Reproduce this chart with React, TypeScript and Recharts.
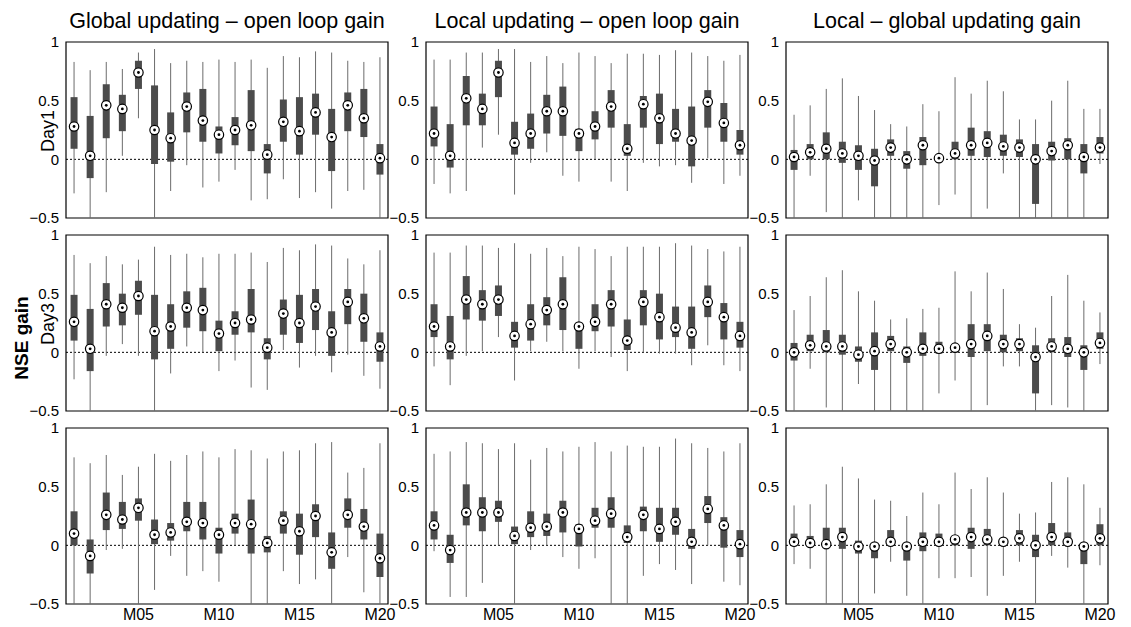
import {
  ComposedChart,
  ErrorBar,
  ReferenceArea,
  ReferenceLine,
  Scatter,
  XAxis,
  YAxis,
} from 'recharts';

// [lower whisker, q1, median, q3, upper whisker]
type Box = [number, number, number, number, number];

const models = [
  'M01', 'M02', 'M03', 'M04', 'M05', 'M06', 'M07', 'M08', 'M09', 'M10',
  'M11', 'M12', 'M13', 'M14', 'M15', 'M16', 'M17', 'M18', 'M19', 'M20',
];
const xTicks = [5, 10, 15, 20];
const yTicks = [-0.5, 0, 0.5, 1];

const columnTitles = [
  'Global updating – open loop gain',
  'Local updating – open loop gain',
  'Local – global updating gain',
];
const rowLabels = ['Day1', 'Day3', ''];

const globalDay1: Box[] = [
  [-0.29, 0.09, 0.28, 0.53, 0.83], [-0.5, -0.16, 0.03, 0.37, 0.76],
  [-0.28, 0.18, 0.46, 0.64, 0.83], [0.03, 0.24, 0.43, 0.55, 0.77],
  [0.35, 0.6, 0.74, 0.84, 0.91], [-0.5, -0.04, 0.25, 0.63, 0.94],
  [-0.27, -0.02, 0.18, 0.4, 0.82], [-0.05, 0.23, 0.45, 0.57, 0.84],
  [-0.24, 0.15, 0.33, 0.6, 0.83], [-0.19, 0.05, 0.21, 0.28, 0.85],
  [-0.09, 0.12, 0.25, 0.36, 0.83], [-0.35, 0.07, 0.29, 0.59, 0.85],
  [-0.34, -0.12, 0.04, 0.13, 0.78], [-0.17, 0.15, 0.32, 0.51, 0.88],
  [-0.33, 0.04, 0.24, 0.53, 0.87], [-0.28, 0.21, 0.4, 0.56, 0.92],
  [-0.42, -0.1, 0.19, 0.43, 0.91], [-0.27, 0.24, 0.46, 0.57, 0.84],
  [-0.26, 0.19, 0.35, 0.6, 0.83], [-0.5, -0.13, 0.01, 0.13, 0.87],
];

const localDay1: Box[] = [
  [-0.21, 0.11, 0.22, 0.45, 0.85], [-0.29, -0.07, 0.03, 0.3, 0.85],
  [-0.27, 0.29, 0.52, 0.71, 0.91], [0.1, 0.29, 0.43, 0.56, 0.91],
  [0.21, 0.53, 0.74, 0.84, 0.94], [-0.3, 0.04, 0.14, 0.32, 0.94],
  [-0.03, 0.09, 0.22, 0.39, 0.83], [0.06, 0.22, 0.41, 0.55, 0.88],
  [-0.14, 0.2, 0.41, 0.62, 0.82], [-0.19, 0.07, 0.22, 0.26, 0.91],
  [0.0, 0.17, 0.28, 0.41, 0.88], [-0.19, 0.27, 0.45, 0.59, 0.82],
  [-0.27, 0.03, 0.09, 0.3, 0.9], [-0.03, 0.27, 0.47, 0.54, 0.9],
  [-0.06, 0.13, 0.35, 0.56, 0.89], [-0.05, 0.15, 0.22, 0.43, 0.93],
  [-0.2, -0.06, 0.16, 0.45, 0.91], [0.01, 0.27, 0.49, 0.59, 0.88],
  [-0.21, 0.15, 0.31, 0.48, 0.84], [-0.14, 0.04, 0.12, 0.25, 0.89],
];

const localGlobalDay1: Box[] = [
  [-0.5, -0.09, 0.02, 0.08, 0.38], [-0.14, 0.0, 0.06, 0.13, 0.46],
  [-0.45, 0.0, 0.09, 0.23, 0.6], [-0.5, -0.03, 0.05, 0.15, 0.69],
  [-0.35, -0.09, 0.03, 0.12, 0.54], [-0.5, -0.23, -0.01, 0.09, 0.42],
  [-0.5, 0.03, 0.1, 0.17, 0.3], [-0.5, -0.08, 0.0, 0.07, 0.28],
  [-0.5, -0.05, 0.12, 0.19, 0.47], [-0.39, -0.02, 0.01, 0.03, 0.41],
  [-0.3, 0.0, 0.05, 0.15, 0.7], [-0.5, 0.03, 0.12, 0.27, 0.56],
  [-0.42, 0.02, 0.14, 0.24, 0.67], [-0.12, 0.03, 0.11, 0.21, 0.58],
  [-0.5, 0.02, 0.1, 0.17, 0.34], [-0.5, -0.38, 0.0, 0.13, 0.34],
  [-0.5, -0.01, 0.07, 0.15, 0.5], [-0.5, 0.0, 0.12, 0.18, 0.67],
  [-0.5, -0.12, 0.02, 0.13, 0.43], [-0.04, 0.05, 0.1, 0.19, 0.43],
];

const globalDay3: Box[] = [
  [-0.23, 0.1, 0.26, 0.49, 0.83], [-0.5, -0.16, 0.03, 0.37, 0.76],
  [-0.03, 0.22, 0.41, 0.59, 0.82], [0.07, 0.23, 0.38, 0.5, 0.75],
  [-0.03, 0.32, 0.48, 0.61, 0.79], [-0.5, -0.06, 0.18, 0.49, 0.9],
  [-0.18, 0.03, 0.22, 0.41, 0.83], [0.05, 0.21, 0.38, 0.52, 0.84],
  [0.0, 0.18, 0.36, 0.55, 0.81], [-0.16, 0.01, 0.16, 0.27, 0.84],
  [-0.07, 0.15, 0.25, 0.35, 0.84], [-0.3, 0.17, 0.28, 0.54, 0.85],
  [-0.32, -0.06, 0.04, 0.12, 0.77], [0.02, 0.15, 0.33, 0.45, 0.89],
  [-0.13, 0.08, 0.25, 0.49, 0.87], [-0.03, 0.19, 0.39, 0.54, 0.92],
  [-0.17, -0.03, 0.17, 0.35, 0.91], [-0.02, 0.24, 0.43, 0.54, 0.8],
  [-0.2, 0.09, 0.29, 0.5, 0.75], [-0.31, -0.08, 0.05, 0.17, 0.87],
];

const localDay3: Box[] = [
  [-0.12, 0.13, 0.22, 0.41, 0.85], [-0.28, -0.06, 0.05, 0.31, 0.85],
  [-0.03, 0.28, 0.45, 0.65, 0.91], [0.01, 0.27, 0.41, 0.53, 0.91],
  [0.13, 0.31, 0.45, 0.57, 0.89], [-0.24, 0.04, 0.14, 0.26, 0.93],
  [0.01, 0.1, 0.24, 0.41, 0.84], [0.09, 0.23, 0.36, 0.47, 0.89],
  [0.01, 0.19, 0.41, 0.64, 0.82], [-0.14, 0.03, 0.22, 0.22, 0.9],
  [0.01, 0.18, 0.26, 0.41, 0.88], [-0.04, 0.22, 0.41, 0.53, 0.82],
  [-0.16, 0.02, 0.1, 0.28, 0.9], [0.0, 0.23, 0.43, 0.53, 0.9],
  [-0.01, 0.11, 0.3, 0.5, 0.9], [-0.01, 0.13, 0.21, 0.39, 0.93],
  [-0.11, 0.03, 0.17, 0.39, 0.91], [0.06, 0.3, 0.43, 0.57, 0.88],
  [-0.11, 0.11, 0.3, 0.42, 0.86], [-0.16, 0.04, 0.14, 0.26, 0.9],
];

const localGlobalDay3: Box[] = [
  [-0.5, -0.07, 0.0, 0.08, 0.36], [-0.14, 0.01, 0.06, 0.15, 0.48],
  [-0.47, 0.0, 0.05, 0.19, 0.64], [-0.5, -0.02, 0.05, 0.15, 0.7],
  [-0.27, -0.08, -0.02, 0.05, 0.52], [-0.5, -0.15, 0.01, 0.17, 0.44],
  [-0.5, 0.01, 0.07, 0.14, 0.28], [-0.5, -0.09, 0.0, 0.05, 0.29],
  [-0.5, -0.03, 0.03, 0.17, 0.37], [-0.35, -0.01, 0.03, 0.09, 0.38],
  [-0.24, 0.0, 0.04, 0.07, 0.69], [-0.5, -0.04, 0.07, 0.24, 0.52],
  [-0.45, 0.01, 0.14, 0.24, 0.68], [-0.12, 0.0, 0.07, 0.15, 0.54],
  [-0.12, 0.01, 0.07, 0.12, 0.24], [-0.5, -0.35, -0.04, 0.06, 0.21],
  [-0.45, 0.0, 0.05, 0.12, 0.48], [-0.47, -0.04, 0.03, 0.13, 0.66],
  [-0.5, -0.15, 0.0, 0.06, 0.44], [-0.1, 0.03, 0.08, 0.17, 0.34],
];

const globalRow3: Box[] = [
  [-0.5, 0.0, 0.1, 0.29, 0.75], [-0.5, -0.24, -0.09, 0.05, 0.7],
  [-0.04, 0.13, 0.26, 0.45, 0.77], [-0.03, 0.14, 0.22, 0.37, 0.6],
  [-0.5, 0.21, 0.32, 0.4, 0.67], [-0.38, 0.01, 0.09, 0.22, 0.78],
  [-0.09, 0.04, 0.11, 0.19, 0.72], [-0.26, 0.12, 0.2, 0.37, 0.77],
  [-0.22, 0.05, 0.19, 0.37, 0.8], [-0.31, -0.07, 0.09, 0.15, 0.75],
  [0.0, 0.1, 0.19, 0.27, 0.82], [-0.5, -0.07, 0.18, 0.39, 0.81],
  [-0.5, -0.06, 0.02, 0.08, 0.74], [-0.22, 0.1, 0.21, 0.29, 0.8],
  [-0.33, -0.08, 0.12, 0.27, 0.81], [-0.29, 0.07, 0.25, 0.35, 0.87],
  [-0.5, -0.2, -0.06, 0.11, 0.88], [-0.1, 0.15, 0.26, 0.4, 0.62],
  [-0.4, 0.05, 0.16, 0.31, 0.66], [-0.5, -0.27, -0.11, 0.1, 0.87],
];

const localRow3: Box[] = [
  [-0.05, 0.05, 0.17, 0.29, 0.78], [-0.44, -0.15, -0.04, 0.09, 0.8],
  [-0.44, 0.17, 0.28, 0.52, 0.88], [-0.32, 0.12, 0.28, 0.41, 0.87],
  [0.0, 0.2, 0.28, 0.38, 0.82], [-0.5, 0.01, 0.08, 0.16, 0.87],
  [-0.04, 0.07, 0.15, 0.29, 0.73], [0.0, 0.08, 0.16, 0.27, 0.83],
  [-0.1, 0.11, 0.28, 0.38, 0.8], [-0.2, -0.01, 0.14, 0.18, 0.84],
  [-0.11, 0.15, 0.21, 0.32, 0.88], [-0.5, 0.15, 0.27, 0.41, 0.8],
  [-0.5, 0.02, 0.07, 0.17, 0.85], [-0.26, 0.12, 0.26, 0.33, 0.84],
  [-0.16, 0.03, 0.14, 0.32, 0.84], [-0.21, 0.09, 0.2, 0.32, 0.91],
  [-0.33, -0.03, 0.03, 0.14, 0.87], [0.0, 0.19, 0.31, 0.42, 0.83],
  [-0.31, -0.02, 0.17, 0.24, 0.8], [-0.34, -0.1, 0.01, 0.13, 0.87],
];

const localGlobalRow3: Box[] = [
  [-0.16, 0.0, 0.03, 0.1, 0.34], [-0.2, 0.0, 0.02, 0.08, 0.35],
  [-0.5, 0.0, 0.01, 0.15, 0.52], [-0.5, -0.03, 0.07, 0.15, 0.67],
  [-0.5, -0.07, -0.01, 0.04, 0.57], [-0.41, -0.11, -0.01, 0.0, 0.39],
  [-0.14, 0.0, 0.03, 0.13, 0.38], [-0.43, -0.13, -0.01, 0.0, 0.25],
  [-0.5, -0.05, 0.03, 0.11, 0.45], [-0.28, 0.0, 0.03, 0.1, 0.35],
  [-0.28, 0.0, 0.05, 0.05, 0.62], [-0.27, -0.03, 0.07, 0.15, 0.48],
  [-0.43, 0.0, 0.05, 0.14, 0.58], [-0.26, 0.0, 0.03, 0.05, 0.45],
  [-0.14, 0.0, 0.06, 0.13, 0.27], [-0.5, -0.1, 0.0, 0.09, 0.28],
  [-0.09, 0.0, 0.07, 0.19, 0.54], [-0.19, 0.0, 0.03, 0.11, 0.58],
  [-0.5, -0.16, -0.01, 0.0, 0.52], [-0.17, 0.0, 0.06, 0.18, 0.32],
];

const grid: Box[][][] = [
  [globalDay1, localDay1, localGlobalDay1],
  [globalDay3, localDay3, localGlobalDay3],
  [globalRow3, localRow3, localGlobalRow3],
];

const FONT = '"Liberation Sans", Arial, Helvetica, sans-serif';
const PLOT_W = 322;
const PLOT_H = 176;
const AXIS_W = 60;
const PAD = 10;
const XAXIS_H = 40;
const colLeft = [66, 426, 786];
const rowTop = [42, 235, 428];

const fmtY = (v: number) => String(v).replace('-', '\u2212');

function Median(props: any) {
  const { cx, cy } = props;
  if (cx == null || cy == null) return null;
  return (
    <g>
      <circle cx={cx} cy={cy} r={4.7} fill="#fff" stroke="#000" strokeWidth={1.2} />
      <circle cx={cx} cy={cy} r={1.4} fill="#000" />
    </g>
  );
}

function Panel({ boxes, showX }: { boxes: Box[]; showX: boolean }) {
  const data = boxes.map((b, i) => ({
    x: i + 1,
    low: b[0],
    q1: b[1],
    med: b[2],
    q3: b[3],
    high: b[4],
  }));
  return (
    <ComposedChart
      width={AXIS_W + PLOT_W + PAD}
      height={PAD + PLOT_H + XAXIS_H}
      data={data}
      margin={{ top: PAD, right: PAD, bottom: 0, left: 0 }}
    >
      <XAxis
        type="number"
        dataKey="x"
        domain={[0.5, 20.5]}
        ticks={xTicks}
        allowDataOverflow
        tickFormatter={(v: number) => models[v - 1]}
        tick={showX ? { fill: '#000', fontSize: 16, fontFamily: FONT } : false}
        axisLine={false}
        tickLine={false}
        tickSize={0}
        tickMargin={5}
        height={XAXIS_H}
      />
      <YAxis
        type="number"
        domain={[-0.5, 1]}
        ticks={yTicks}
        allowDataOverflow
        tickFormatter={fmtY}
        tick={{ fill: '#000', fontSize: 15, fontFamily: FONT }}
        axisLine={false}
        tickLine={false}
        tickSize={0}
        tickMargin={7}
        width={AXIS_W}
      />
      <ReferenceLine y={0} stroke="#000" strokeWidth={1} strokeDasharray="2 2" />
      <Scatter dataKey="med" shape={<Median />} isAnimationActive={false}>
        <ErrorBar
          dataKey={(d: any) => [d.med - d.low, d.high - d.med]}
          direction="y"
          width={0}
          stroke="#6c6c6c"
          strokeWidth={1}
        />
        <ErrorBar
          dataKey={(d: any) => [d.med - d.q1, d.q3 - d.med]}
          direction="y"
          width={0}
          stroke="#4b4b4b"
          strokeWidth={7}
        />
      </Scatter>
      <ReferenceArea
        x1={0.5}
        x2={20.5}
        y1={-0.5}
        y2={1}
        fill="none"
        stroke="#000"
        strokeWidth={1.2}
        ifOverflow="visible"
      />
    </ComposedChart>
  );
}

export default function App() {
  return (
    <div
      style={{
        position: 'absolute',
        left: 0,
        top: 0,
        width: 1131,
        height: 627,
        background: '#fff',
        fontFamily: FONT,
      }}
    >
      {grid.map((row, r) =>
        row.map((boxes, c) => (
          <div
            key={`${r}-${c}`}
            style={{
              position: 'absolute',
              left: colLeft[c] - AXIS_W,
              top: rowTop[r] - PAD,
            }}
          >
            <Panel boxes={boxes} showX={r === 2} />
          </div>
        ))
      )}
      <svg
        width={1131}
        height={627}
        style={{ position: 'absolute', left: 0, top: 0, pointerEvents: 'none' }}
      >
        {columnTitles.map((t, c) => (
          <text
            key={t}
            x={colLeft[c] + PLOT_W / 2}
            y={28}
            textAnchor="middle"
            fontSize={21.5}
            fontFamily={FONT}
            fill="#000"
          >
            {t}
          </text>
        ))}
        {rowLabels.map((label, r) =>
          label ? (
            <text
              key={label}
              transform={`translate(54, ${rowTop[r] + PLOT_H / 2 + 1}) rotate(-90)`}
              textAnchor="middle"
              fontSize={18}
              fontFamily={FONT}
              fill="#000"
            >
              {label}
            </text>
          ) : null
        )}
        <text
          transform={`translate(28, 338) rotate(-90)`}
          textAnchor="middle"
          fontSize={19}
          fontWeight="bold"
          fontFamily={FONT}
          fill="#000"
        >
          NSE gain
        </text>
      </svg>
    </div>
  );
}
